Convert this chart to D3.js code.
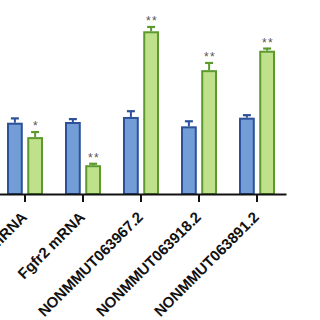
<!DOCTYPE html>
<html><head><meta charset="utf-8">
<script src="https://cdn.jsdelivr.net/npm/d3@7/dist/d3.min.js"></script>
<style>html,body{margin:0;padding:0;background:#fff;overflow:hidden}</style>
</head><body><svg id="c" width="320" height="320"></svg>
<script>
const categories = ["Fgfr1 mRNA","Fgfr2 mRNA","NONMMUT063967.2","NONMMUT063918.2","NONMMUT063891.2"];
const series = ["control","treated"];
const controlValues = [0.99, 1.00, 1.07, 0.94, 1.06];
const controlErrors = [0.06, 0.04, 0.08, 0.07, 0.035];
const treatedValues = [0.79, 0.40, 2.26, 1.72, 1.99];
const treatedErrors = [0.07, 0.02, 0.06, 0.10, 0.03];
const significance = ["*","**","**","**","**"];

const svg = d3.select("#c");
const base = 194;
const y = d3.scaleLinear().domain([0, 2.5]).range([base, base - 180]);
const x = d3.scaleBand().domain(categories).range([-4, 286]).padding(0);
const xs = d3.scaleBand().domain(series).range([-18, 18]).paddingInner(0.22).paddingOuter(0);

const fills = {control:"#729dd6", treated:"#bfe18c"};
const strokes = {control:"#2d5199", treated:"#5c9a2e"};

const rows = [];
categories.forEach((c,i)=>{
  rows.push({c, s:"control", v:controlValues[i], e:controlErrors[i]});
  rows.push({c, s:"treated", v:treatedValues[i], e:treatedErrors[i], sig:significance[i]});
});

const g = svg.append("g");
rows.forEach(d=>{
  const cx = x(d.c) + x.bandwidth()/2;
  const bx = cx + xs(d.s);
  const bw = xs.bandwidth();
  const mid = bx + bw/2;
  g.append("line").attr("x1",mid).attr("x2",mid).attr("y1",y(d.v)).attr("y2",y(d.v+d.e))
    .attr("stroke",strokes[d.s]).attr("stroke-width",2);
  g.append("line").attr("x1",mid-4).attr("x2",mid+4).attr("y1",y(d.v+d.e)).attr("y2",y(d.v+d.e))
    .attr("stroke",strokes[d.s]).attr("stroke-width",2.2);
  g.append("rect").attr("x",bx+1).attr("y",y(d.v)+1).attr("width",bw-2).attr("height",base-y(d.v)-1)
    .attr("fill",fills[d.s]).attr("stroke",strokes[d.s]).attr("stroke-width",2);
  if (d.sig) {
    g.append("text").attr("x",mid+1).attr("y",y(d.v+d.e)-2)
      .attr("text-anchor","middle").attr("font-family","Liberation Sans, Arial, sans-serif")
      .attr("font-size",12).attr("fill","#555").attr("letter-spacing",1.5).text(d.sig);
  }
});

const ax = svg.append("g").attr("transform",`translate(0,${base})`)
  .call(d3.axisBottom(x).tickSizeInner(8).tickSizeOuter(0));
ax.select(".domain").attr("stroke","#111").attr("stroke-width",2);
ax.selectAll(".tick line").attr("stroke","#111").attr("stroke-width",2);
ax.selectAll(".tick text")
  .attr("font-family","Liberation Sans, Arial, sans-serif").attr("font-size",15).attr("font-weight","bold")
  .attr("fill","#111")
  .attr("text-anchor","end").attr("dy",0).attr("y",0)
  .attr("transform","translate(3,24) rotate(-45)");
</script></body></html>
